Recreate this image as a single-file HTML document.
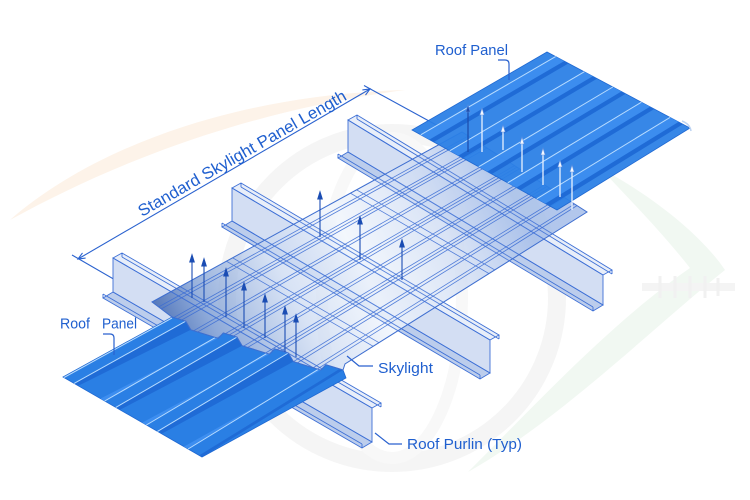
<!DOCTYPE html>
<html><head><meta charset="utf-8">
<style>
html,body{margin:0;padding:0;background:#fff;}
svg{display:block;}
text{font-family:"Liberation Sans",sans-serif;fill:#1f5fcf;}
</style></head><body>
<svg width="750" height="500" viewBox="0 0 750 500" xmlns="http://www.w3.org/2000/svg">
<defs>
<linearGradient id="sky" gradientUnits="userSpaceOnUse" x1="152" y1="302" x2="480" y2="135">
 <stop offset="0" stop-color="#4a6fb5" stop-opacity="0.92"/>
 <stop offset="0.12" stop-color="#7d9dd3" stop-opacity="0.8"/>
 <stop offset="0.35" stop-color="#c9d8f1" stop-opacity="0.72"/>
 <stop offset="0.55" stop-color="#f0f5fc" stop-opacity="0.8"/>
 <stop offset="0.8" stop-color="#cfdcf3" stop-opacity="0.8"/>
 <stop offset="1" stop-color="#a7bfe9" stop-opacity="0.88"/>
</linearGradient>
<clipPath id="skyclip"><polygon points="152,302 462,132 587,212 345,364 343,370 339.6,368.9 325.9,364.7 320.8,370.1 293.4,361.6 288.3,353 274.6,348.8 269.5,354.2 242.1,345.7 237,337.1 223.3,332.9 218.2,338.3 190.8,329.8 185.7,321.2 172,317"/></clipPath>
<g id="pstroke" fill="none" stroke="#3e70d6" stroke-width="0.9">
 <polygon points="113,258 372,408 372,442 113,292"/>
 <polygon points="113,258 372,408 381,403 122,253"/>
 <polyline points="381,403 381,407"/><polyline points="122,253 122,257"/>
 <line x1="122" y1="257" x2="381" y2="407"/>
 <polygon points="113,292 372,442 362,448 103,298"/>
 <polyline points="362,448 362,444"/><polyline points="103,298 103,294"/>
 <line x1="103" y1="294" x2="362" y2="444"/>

 <polygon points="232,188 490,340 490,373 232,221"/>
 <polygon points="232,188 490,340 499,335 241,183"/>
 <polyline points="499,335 499,339"/><polyline points="241,183 241,187"/>
 <line x1="241" y1="187" x2="499" y2="339"/>
 <polygon points="232,221 490,373 480,379 222,227"/>
 <polyline points="480,379 480,375"/><polyline points="222,227 222,223"/>
 <line x1="222" y1="223" x2="480" y2="375"/>

 <polygon points="348,120 603,275 603,305 348,152"/>
 <polygon points="348,120 603,275 612,270 357,115"/>
 <polyline points="612,270 612,274"/><polyline points="357,115 357,119"/>
 <line x1="357" y1="119" x2="612" y2="274"/>
 <polygon points="348,152 603,305 593,311 338,158"/>
 <polyline points="593,311 593,307"/><polyline points="338,158 338,154"/>
 <line x1="338" y1="154" x2="593" y2="307"/>
</g>
</defs>

<!-- watermark background -->
<path d="M10,220 C90,150 230,95 405,90 C240,112 110,165 10,220 Z" fill="#fdf3e9"/>
<circle cx="392" cy="298" r="165" fill="none" stroke="#f5f5f5" stroke-width="18"/>
<ellipse cx="392" cy="298" rx="70" ry="160" fill="none" stroke="#f8f8f8" stroke-width="12"/>
<path d="M600,168 C660,200 705,240 725,270 C650,330 560,420 468,472 C540,400 612,322 690,268 C660,230 630,200 600,168 Z" fill="#f1f8f2"/>
<rect x="642" y="283" width="93" height="8" fill="#f4f4f4"/>
<g stroke="#f1f1f1" stroke-width="3">
 <line x1="660" y1="276" x2="660" y2="298"/><line x1="675" y1="276" x2="675" y2="298"/>
 <line x1="690" y1="276" x2="690" y2="298"/><line x1="705" y1="276" x2="705" y2="298"/>
 <line x1="718" y1="278" x2="718" y2="296"/>
</g>

<!-- dimension -->
<g stroke="#2a62cf" stroke-width="1.1" fill="none">
 <line x1="78" y1="259" x2="370" y2="89"/>
 <path d="M365.5,95.1 L370,89 L362.4,89.9"/>
 <path d="M85.6,258.1 L78,259 L82.5,252.9"/>
 <line x1="72" y1="255" x2="155" y2="303"/>
 <line x1="364" y1="85.5" x2="440" y2="127"/>
</g>
<text transform="translate(142,217) rotate(-29.8)" font-size="16.5" textLength="237" lengthAdjust="spacingAndGlyphs">Standard Skylight Panel Length</text>

<!-- purlins -->
<g stroke="none">
 <polygon points="113,258 372,408 372,442 113,292" fill="#d3def3"/>
 <polygon points="113,258 372,408 381,403 122,253" fill="#e8eef9"/>
 <polygon points="113,292 372,442 362,448 103,298" fill="#bccdec"/>
 <polygon points="232,188 490,340 490,373 232,221" fill="#d3def3"/>
 <polygon points="232,188 490,340 499,335 241,183" fill="#e8eef9"/>
 <polygon points="232,221 490,373 480,379 222,227" fill="#bccdec"/>
 <polygon points="348,120 603,275 603,305 348,152" fill="#d3def3"/>
 <polygon points="348,120 603,275 612,270 357,115" fill="#e8eef9"/>
 <polygon points="348,152 603,305 593,311 338,158" fill="#bccdec"/>
</g>
<use href="#pstroke"/>

<!-- bottom roof panel -->
<polygon points="63,377 172,317 185.7,321.2 190.8,329.8 218.2,338.3 223.3,332.9 237,337.1 242.1,345.7 269.5,354.2 274.6,348.8 288.3,353 293.4,361.6 320.8,370.1 325.9,364.7 339.6,368.9 343,370 346,378 202,457" fill="#2a7fe4" stroke="#1f68d2" stroke-width="0.8"/>
<g fill="#1f6bd6">
 <polygon points="74.1,383.4 185.7,321.2 190.8,329.8 78.3,385.8"/>
 <polygon points="115.8,407.4 237,337.1 242.1,345.7 120,409.8"/>
 <polygon points="157.5,431.4 288.3,353 293.4,361.6 161.7,433.8"/>
 <polygon points="199.2,455.4 339.6,368.9 343,370 202,457"/>
</g>
<g fill="#3d8ef0">
 <polygon points="100.5,398.6 218.2,338.3 223.3,332.9 104.7,401"/>
 <polygon points="142.2,422.6 269.5,354.2 274.6,348.8 146.4,425"/>
 <polygon points="183.9,446.6 320.8,370.1 325.9,364.7 188.1,449"/>
</g>
<g stroke="#b8dcff" stroke-width="1">
 <line x1="64" y1="377.5" x2="172" y2="318"/>
 <line x1="74.1" y1="383.4" x2="185.7" y2="321.2"/>
 <line x1="104.7" y1="401" x2="223.3" y2="332.9"/>
 <line x1="115.8" y1="407.4" x2="237" y2="337.1"/>
 <line x1="146.4" y1="425" x2="274.6" y2="348.8"/>
 <line x1="157.5" y1="431.4" x2="288.3" y2="353"/>
 <line x1="188.1" y1="449" x2="325.9" y2="364.7"/>
</g>

<!-- skylight -->
<polygon points="152,302 462,132 587,212 345,364 343,370 339.6,368.9 325.9,364.7 320.8,370.1 293.4,361.6 288.3,353 274.6,348.8 269.5,354.2 242.1,345.7 237,337.1 223.3,332.9 218.2,338.3 190.8,329.8 185.7,321.2 172,317" fill="url(#sky)"/>
<g clip-path="url(#skyclip)">
 <g opacity="0.8"><use href="#pstroke"/></g>
 <g stroke="#3a6cd4" stroke-width="0.8" opacity="0.85">
  <line x1="135.3" y1="319.8" x2="468.3" y2="136"/>
  <line x1="139.1" y1="321.2" x2="470.8" y2="137.6"/>
  <line x1="156.3" y1="327.3" x2="482" y2="144.8"/>
  <line x1="160.1" y1="328.6" x2="484.5" y2="146.4"/>
  <line x1="163.9" y1="330" x2="487" y2="148"/>
  <line x1="183" y1="336.8" x2="499.5" y2="156"/>
  <line x1="186.8" y1="338.2" x2="502" y2="157.6"/>
  <line x1="205.9" y1="345" x2="514.5" y2="165.6"/>
  <line x1="209.7" y1="346.3" x2="517" y2="167.2"/>
  <line x1="213.6" y1="347.7" x2="519.5" y2="168.8"/>
  <line x1="230.7" y1="353.8" x2="530.8" y2="176"/>
  <line x1="234.6" y1="355.2" x2="533.3" y2="177.6"/>
  <line x1="251.8" y1="361.3" x2="544.5" y2="184.8"/>
  <line x1="255.6" y1="362.6" x2="547" y2="186.4"/>
  <line x1="259.4" y1="364" x2="549.5" y2="188"/>
  <line x1="278.5" y1="370.8" x2="562" y2="196"/>
  <line x1="282.3" y1="372.2" x2="564.5" y2="197.6"/>
  <line x1="297.6" y1="377.6" x2="574.5" y2="204"/>
  <line x1="301.4" y1="379" x2="577" y2="205.6"/>
  <line x1="216.4" y1="255.4" x2="526.4" y2="435.2"/>
  <line x1="222.6" y1="252" x2="532.6" y2="431.8"/>
  <line x1="340.4" y1="187.4" x2="650.4" y2="367.2"/>
  <line x1="346.6" y1="184" x2="656.6" y2="363.8"/>
 </g>
</g>
<polygon points="152,302 462,132 587,212 345,364 343,370 339.6,368.9 325.9,364.7 320.8,370.1 293.4,361.6 288.3,353 274.6,348.8 269.5,354.2 242.1,345.7 237,337.1 223.3,332.9 218.2,338.3 190.8,329.8 185.7,321.2 172,317" fill="none" stroke="#3f6fd0" stroke-width="1"/>

<!-- dark fastener arrows on skylight -->
<g stroke="#1b4db3" stroke-width="1.1" fill="#1b4db3">
 <line x1="192" y1="260" x2="192" y2="298"/><polygon points="189.8,262 192,255 194.2,262"/>
 <line x1="204" y1="264" x2="204" y2="302"/><polygon points="201.8,266 204,259 206.2,266"/>
 <line x1="226" y1="274" x2="226" y2="317"/><polygon points="223.8,276 226,269 228.2,276"/>
 <line x1="244" y1="288" x2="244" y2="328"/><polygon points="241.8,290 244,283 246.2,290"/>
 <line x1="265" y1="300" x2="265" y2="338"/><polygon points="262.8,302 265,295 267.2,302"/>
 <line x1="285" y1="312" x2="285" y2="352"/><polygon points="282.8,314 285,307 287.2,314"/>
 <line x1="296" y1="320" x2="296" y2="357"/><polygon points="293.8,322 296,315 298.2,322"/>
 <line x1="320" y1="197" x2="320" y2="237"/><polygon points="317.8,199 320,192 322.2,199"/>
 <line x1="360" y1="222" x2="360" y2="260"/><polygon points="357.8,224 360,217 362.2,224"/>
 <line x1="402" y1="245" x2="402" y2="280"/><polygon points="399.8,247 402,240 404.2,247"/>
</g>

<!-- top roof panel -->
<polygon points="412,130 547,52 690,128 557,210" fill="#2a7fe6" fill-opacity="0.94" stroke="#1f68d2" stroke-width="0.8"/>
<g fill="#3d8ef0" opacity="0.9">
 <polygon points="420.7,134.8 555.6,56.6 564.2,61.1 429.4,139.6"/>
 <polygon points="449.7,150.8 584.2,71.8 592.8,76.3 458.4,155.6"/>
 <polygon points="478.7,166.8 612.8,87 621.4,91.5 487.4,171.6"/>
 <polygon points="507.7,182.8 641.4,102.2 650,106.7 516.4,187.6"/>
 <polygon points="536.7,198.8 670,117.4 678.6,121.9 545.4,203.6"/>
</g>
<g fill="#1f6bd6">
 <polygon points="429.4,139.6 564.2,61.1 568.5,63.4 433.8,142"/>
 <polygon points="458.4,155.6 592.8,76.3 597.1,78.6 462.8,158"/>
 <polygon points="487.4,171.6 621.4,91.5 625.7,93.8 491.8,174"/>
 <polygon points="516.4,187.6 650,106.7 654.3,109 520.8,190"/>
 <polygon points="545.4,203.6 678.6,121.9 682.9,124.2 549.8,206"/>
</g>
<g stroke="#b8dcff" stroke-width="1">
 <line x1="420.7" y1="134.8" x2="555.6" y2="56.6"/>
 <line x1="449.7" y1="150.8" x2="584.2" y2="71.8"/>
 <line x1="478.7" y1="166.8" x2="612.8" y2="87"/>
 <line x1="507.7" y1="182.8" x2="641.4" y2="102.2"/>
 <line x1="536.7" y1="198.8" x2="670" y2="117.4"/>
</g>
<path d="M682,121 Q690,124 691,131" fill="none" stroke="#bcd3f2" stroke-width="1.5"/>

<!-- pale arrows on top panel -->
<g stroke="#e9f2ff" stroke-width="1.3">
 <line x1="468" y1="110" x2="468" y2="152" stroke="#1d4fae"/>
 <line x1="482" y1="113" x2="482" y2="152"/>
 <line x1="503" y1="130" x2="503" y2="150"/>
 <line x1="522" y1="142" x2="522" y2="172"/>
 <line x1="543" y1="153" x2="543" y2="185"/>
 <line x1="560" y1="165" x2="560" y2="197"/>
 <line x1="572" y1="170" x2="572" y2="210"/>
</g>
<g fill="#f4f8ff" stroke="#5d8fe0" stroke-width="0.6">
 <polygon points="465.8,112 468,105 470.2,112" fill="#1d4fae"/>
 <polygon points="479.8,115 482,108 484.2,115"/>
 <polygon points="500.8,132 503,125 505.2,132"/>
 <polygon points="519.8,144 522,137 524.2,144"/>
 <polygon points="540.8,155 543,148 545.2,155"/>
 <polygon points="557.8,167 560,160 562.2,167"/>
 <polygon points="569.8,172 572,165 574.2,172"/>
</g>

<!-- labels and leaders -->
<g stroke="#2a62cf" stroke-width="1.2" fill="none">
 <path d="M498,60 H505 Q509,60 509,64 V80"/>
 <path d="M103,334 H110 Q114,334 114,338 V355"/>
 <path d="M347,356 L359,366 H373"/>
 <path d="M375,433 L389,444 H402"/>
</g>
<text x="435" y="55" font-size="14.5" textLength="73" lengthAdjust="spacingAndGlyphs">Roof Panel</text>
<text x="60" y="328.5" font-size="14.5" textLength="30" lengthAdjust="spacingAndGlyphs">Roof</text>
<text x="102" y="328.5" font-size="14.5" textLength="35" lengthAdjust="spacingAndGlyphs">Panel</text>
<text x="378" y="373" font-size="14.5" textLength="55" lengthAdjust="spacingAndGlyphs">Skylight</text>
<text x="407" y="449" font-size="14.5" textLength="115" lengthAdjust="spacingAndGlyphs">Roof Purlin (Typ)</text>
</svg>
</body></html>
